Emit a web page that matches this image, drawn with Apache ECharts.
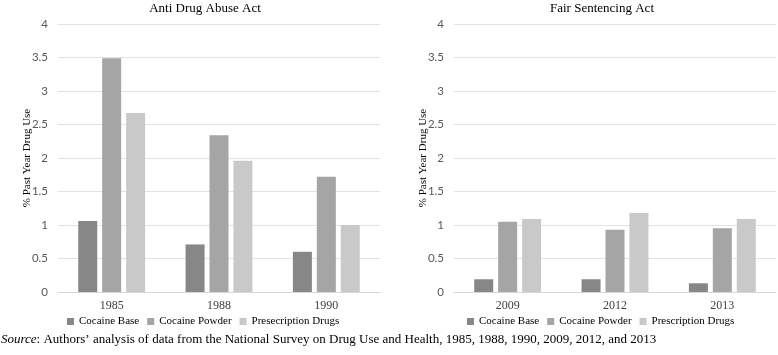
<!DOCTYPE html>
<html>
<head>
<meta charset="utf-8">
<script src="https://cdn.jsdelivr.net/npm/echarts@6/dist/echarts.min.js"></script>
<style>
  html, body { margin: 0; padding: 0; background: #fff; }
  #chart { width: 778px; height: 355px; }
</style>
</head>
<body>
<div id="chart"></div>
<script>
// data
var seriesNames = ['Cocaine Base', 'Cocaine Powder', 'Presecription Drugs'];
var seriesNamesRight = ['Cocaine Base', 'Cocaine Powder', 'Prescription Drugs'];
var yearsAnti = ['1985', '1988', '1990'];
var yearsFair = ['2009', '2012', '2013'];
var antiBase = [1.06, 0.71, 0.60];
var antiPowder = [3.49, 2.34, 1.72];
var antiPresc = [2.67, 1.96, 1.00];
var fairBase = [0.19, 0.19, 0.13];
var fairPowder = [1.05, 0.93, 0.95];
var fairPresc = [1.09, 1.18, 1.09];

var colors = ['#878787', '#a5a5a5', '#c9c9c9'];
var serif = '"Liberation Serif", "DejaVu Serif", serif';
var sans = 'Lato, "Open Sans", sans-serif';

function yAxis(idx, gap) {
  return {
    type: 'value', gridIndex: idx, min: 0, max: 4, interval: 0.5,
    name: '% Past Year Drug Use', nameLocation: 'middle', nameGap: gap,
    nameMoveOverlap: false,
    nameTextStyle: { fontFamily: serif, fontSize: 11, color: '#000' },
    axisLine: { show: false }, axisTick: { show: false },
    axisLabel: { fontFamily: sans, fontSize: 11.5, color: '#595959', margin: 10 },
    splitLine: { lineStyle: { color: '#e2e2e2', width: 1 } }
  };
}

function xAxis(idx, data) {
  return {
    type: 'category', gridIndex: idx, data: data,
    axisLine: { lineStyle: { color: '#d6d6d6' } }, axisTick: { show: false },
    axisLabel: { fontFamily: serif, fontSize: 12, color: '#404040', margin: 8 }
  };
}

function bar(name, data, i, idx) {
  return {
    name: name, type: 'bar', xAxisIndex: idx, yAxisIndex: idx,
    data: data, barWidth: 19, barGap: '26%',
    itemStyle: { color: colors[i] }
  };
}

var legendText = { fontFamily: serif, fontSize: 11, color: '#000' };

var chart = echarts.init(document.getElementById('chart'));
chart.setOption({
  animation: false,
  title: [
    { text: 'Anti Drug Abuse Act', left: 200, textAlign: 'center', top: -3,
      textStyle: { fontFamily: serif, fontSize: 13, fontWeight: 'normal', color: '#000' } },
    { text: 'Fair Sentencing Act', left: 597, textAlign: 'center', top: -3,
      textStyle: { fontFamily: serif, fontSize: 13, fontWeight: 'normal', color: '#000' } }
  ],
  grid: [
    { left: 58, width: 322, top: 24, bottom: 63 },
    { left: 454, width: 322, top: 24, bottom: 63 }
  ],
  legend: [
    { data: seriesNames, left: 67, top: 316, padding: 0,
      itemWidth: 7, itemHeight: 7, itemGap: 8, icon: 'rect', textStyle: legendText },
    { data: seriesNamesRight, left: 467, top: 316, padding: 0,
      itemWidth: 7, itemHeight: 7, itemGap: 8, icon: 'rect', textStyle: legendText }
  ],
  xAxis: [xAxis(0, yearsAnti), xAxis(1, yearsFair)],
  yAxis: [yAxis(0, 25), yAxis(1, 25)],
  series: [
    bar(seriesNames[0], antiBase, 0, 0),
    bar(seriesNames[1], antiPowder, 1, 0),
    bar(seriesNames[2], antiPresc, 2, 0),
    bar(seriesNamesRight[0], fairBase, 0, 1),
    bar(seriesNamesRight[1], fairPowder, 1, 1),
    bar(seriesNamesRight[2], fairPresc, 2, 1)
  ],
  graphic: [{
    type: 'text', left: 1, top: 333,
    style: {
      text: '{i|Source}: Authors\u2019 analysis of data from the National Survey on Drug Use and Health, 1985, 1988, 1990, 2009, 2012, and 2013',
      fontFamily: serif, fontSize: 13, fill: '#000',
      rich: { i: { fontStyle: 'italic', fontFamily: serif, fontSize: 13 } }
    }
  }]
});
</script>
</body>
</html>
